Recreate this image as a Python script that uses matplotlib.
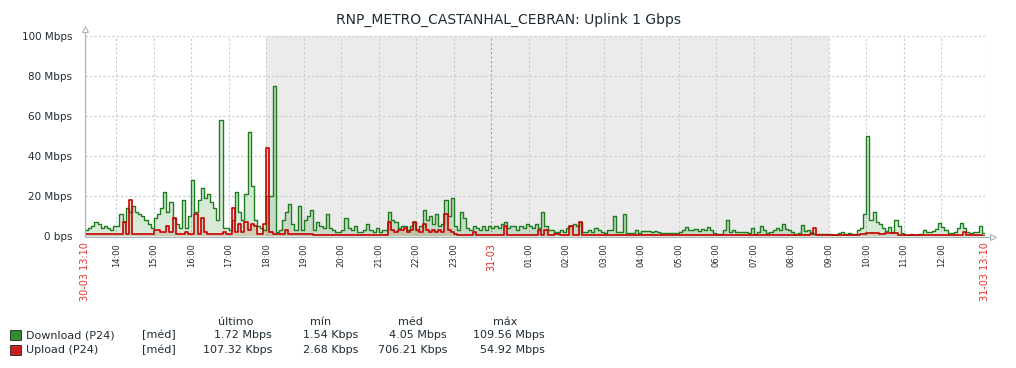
import numpy as np
import pandas as pd
import matplotlib
matplotlib.use("Agg")
import matplotlib.pyplot as plt
from matplotlib.lines import Line2D
from matplotlib.patches import Rectangle

title = "RNP_METRO_CASTANHAL_CEBRAN: Uplink 1 Gbps"

# Mbps, one value every 5 minutes, from 30-03 13:10 to 31-03 13:10
download = [
    3, 4, 5, 7, 6, 4, 5, 4, 3, 5,                   # 13:10-14:00
    5, 11, 7, 14, 12, 15, 12, 11, 10, 8, 6, 4,      # 14
    9, 11, 14, 22, 12, 17, 9, 6, 4, 18, 4, 10,      # 15
    28, 12, 18, 24, 19, 21, 17, 14, 8, 58, 4, 4,    # 16
    3, 8, 22, 12, 8, 21, 52, 25, 8, 5, 4, 3,        # 17
    20, 20, 75, 2, 3, 8, 12, 16, 6, 3, 15, 3,       # 18
    8, 10, 13, 3, 7, 5, 4, 11, 4, 3, 2, 2,          # 19
    3, 9, 4, 3, 5, 2, 2, 3, 6, 3, 2, 4,             # 20
    2, 3, 3, 12, 8, 7, 4, 5, 5, 3, 5, 7,            # 21
    3, 5, 13, 8, 10, 6, 11, 5, 6, 18, 10, 19,       # 22
    5, 3, 12, 9, 4, 3, 5, 4, 3, 5, 3, 5,            # 23
    4, 5, 4, 6, 7, 4, 5, 5, 3, 5, 4, 6,             # 00
    5, 4, 6, 4, 12, 5, 3, 3, 2, 2, 3, 2,            # 01
    4, 5, 6, 5, 7, 2, 2, 3, 2, 4, 3, 2,             # 02
    1.5, 3, 3, 10, 2, 2, 11, 1.5, 1.5, 1.5, 3, 1.5, # 03
    2.5, 2.5, 2.5, 2, 2.5, 2, 1.5, 1.5, 1.5, 1.3, 1.3, 1.3,  # 04
    2, 3, 4.5, 3, 3, 3.5, 2.5, 3.5, 3, 4.5, 3, 1.5, # 05
    1, 1, 3, 8, 2, 3, 2, 2, 2, 2, 1.5, 4,           # 06
    1, 2, 5, 3, 1.5, 2, 3, 4, 3, 6, 3.5, 3,         # 07
    2, 1, 1.5, 5.5, 2.5, 3, 2, 1, 1, 0.8, 0.8, 0.8, # 08
    1, 0.5, 0.5, 1.5, 2, 1, 1.5, 1, 1, 3, 4, 11,    # 09
    50, 8, 12, 7, 6, 4, 2.5, 4.5, 2, 8, 5, 1.5,     # 10
    0.5, 0.5, 1, 0.5, 0.5, 1, 3, 2, 2, 2.5, 3.5, 6.5,  # 11
    4.5, 3, 1.5, 1.5, 2, 4, 6.5, 4, 2, 1.5, 2, 2,   # 12
    5, 1.7,                                         # 13:00-13:10
]

upload = [
    1, 1, 1, 1, 1, 1, 1, 1, 1, 1,
    1, 1, 7, 1, 18, 1, 1, 1, 1, 1, 1, 1,
    3, 3, 2, 2, 5, 2, 9, 1, 1, 1, 2, 1,
    1, 11, 1, 9, 2, 1, 1, 1, 1, 1, 2, 1,
    1, 14, 2, 6, 2, 7, 3, 6, 5, 1, 1, 6,
    44, 2, 1, 1, 1, 1, 3, 1, 1, 1, 1, 1,
    1, 1, 1, 0.5, 0.5, 0.5, 0.5, 0.5, 0.5, 0.5, 0.5, 0.5,
    0.5, 0.5, 0.5, 0.5, 0.5, 0.5, 0.5, 0.5, 0.5, 0.5, 0.5, 0.5,
    0.5, 0.5, 0.5, 7, 3, 2, 3, 3, 4, 2, 3, 7,
    3, 2, 6, 3, 2, 3, 2, 3, 2, 11, 3, 2,
    1, 0.5, 0.5, 0.5, 0.5, 0.5, 2, 0.5, 0.5, 0.5, 0.5, 0.5,
    0.5, 0.5, 0.5, 0.5, 5, 0.5, 0.5, 0.5, 0.5, 0.5, 0.5, 0.5,
    0.5, 0.5, 0.5, 3, 0.5, 3, 0.5, 0.5, 1, 1, 0.5, 0.5,
    0.5, 5, 0.5, 0.5, 7, 0.5, 0.3, 0.3, 0.3, 0.3, 0.3, 0.3,
    0.3, 0.3, 0.3, 0.3, 0.3, 0.3, 0.3, 0.3, 0.3, 0.3, 0.3, 0.3,
    0.3, 0.3, 0.3, 0.3, 0.3, 0.3, 0.3, 0.3, 0.3, 0.3, 0.3, 0.3,
    0.3, 0.3, 0.3, 0.3, 0.3, 0.3, 0.3, 0.3, 0.3, 0.3, 0.3, 0.3,
    0.3, 0.3, 0.3, 0.3, 0.3, 0.3, 0.3, 0.3, 0.3, 0.3, 0.3, 0.3,
    0.3, 0.3, 0.3, 0.3, 0.3, 0.3, 0.3, 0.3, 0.3, 0.3, 0.3, 0.3,
    0.3, 0.3, 0.3, 0.3, 0.3, 0.3, 1, 4, 0.3, 0.3, 0.3, 0.3,
    0.3, 0.3, 0.3, 0.3, 0.3, 0.3, 0.3, 0.3, 0.3, 0.3, 0.8, 0.8,
    1.3, 1.3, 1.3, 1.3, 0.8, 1, 1.3, 1.3, 1.3, 1.3, 0.5, 0.3,
    0.3, 0.3, 0.3, 0.3, 0.3, 0.3, 0.3, 0.3, 0.3, 0.3, 0.3, 0.3,
    0.3, 0.3, 0.3, 0.3, 0.3, 0.3, 0.3, 2, 0.5, 0.5, 0.5, 0.5,
    0.5, 0.1,
]

y_ticks = [0, 20, 40, 60, 80, 100]
y_labels = ["0 bps", "20 Mbps", "40 Mbps", "60 Mbps", "80 Mbps", "100 Mbps"]

start = pd.Timestamp("2024-03-30 13:10")
end = pd.Timestamp("2024-03-31 13:10")
night_start = pd.Timestamp("2024-03-30 18:00")
night_end = pd.Timestamp("2024-03-31 09:00")

legend_names = ["Download (P24)", "Upload (P24)"]
legend_cols = ["último", "mín", "méd", "máx"]
legend_vals = [
    ["1.72 Mbps", "1.54 Kbps", "4.05 Mbps", "109.56 Mbps"],
    ["107.32 Kbps", "2.68 Kbps", "706.21 Kbps", "54.92 Mbps"],
]

green = "#1b7d1b"
red = "#c80000"
txt = "#1f2c33"
gridc = "#c3ccd1"
axc = "#a9b4ba"
labred = "#e8302c"

W, H = 1016, 368
fig = plt.figure(figsize=(W / 100, H / 100), dpi=100)


def fx(x):
    return x / W


def fy(y):
    return 1 - y / H


ax = fig.add_axes([fx(85), fy(236), fx(985) - fx(85), fy(36) - fy(236)])

times = pd.date_range(start, periods=len(download), freq="5min")
t_ext = list(times) + [end]
d_ext = download + [download[-1]]
u_ext = upload + [upload[-1]]

ax.axvspan(night_start, night_end, color="#ebebeb", lw=0, zorder=0)

hours = pd.date_range("2024-03-30 14:00", "2024-03-31 12:00", freq="1h")
for h in list(hours) + [end]:
    c = "#9aa3a8" if h.hour == 0 else gridc
    ax.axvline(h, color=c, lw=0.8, ls=(0, (2, 2)), zorder=1)
for v in y_ticks[1:]:
    ax.axhline(v, color=gridc, lw=0.8, ls=(0, (2, 2)), zorder=1)

ax.fill_between(t_ext, d_ext, step="post", color="#3a9a3a", alpha=0.2, lw=0, zorder=2)
ax.plot(t_ext, d_ext, drawstyle="steps-post", color=green, lw=1.0, zorder=3)
ax.fill_between(t_ext, u_ext, step="post", color="#a03000", alpha=0.15, lw=0, zorder=4)
ax.plot(t_ext, u_ext, drawstyle="steps-post", color=red, lw=1.2, zorder=5)

ax.set_xlim(start, end)
ax.set_ylim(0, 100)
for s in ["top", "right", "bottom"]:
    ax.spines[s].set_visible(False)
ax.spines["left"].set_color(axc)
ax.spines["left"].set_linewidth(0.8)
ax.set_yticks(y_ticks)
ax.set_yticklabels(y_labels, fontsize=7.5, color=txt)
ax.tick_params(axis="y", length=0, pad=9)

ax.set_xticks(list(hours))
ax.set_xticklabels([("31-03" if h.hour == 0 else h.strftime("%H:%M")) for h in hours],
                   rotation=90, fontsize=6, color=txt)
ax.tick_params(axis="x", length=0, pad=5)
for lab, h in zip(ax.get_xticklabels(), hours):
    if h.hour == 0:
        lab.set_color(labred)
        lab.set_fontsize(7)

for t, s in [(start, "30-03 13:10"), (end, "31-03 13:10")]:
    ax.text(t, -0.03, s, transform=ax.get_xaxis_transform(), rotation=90,
            ha="center", va="top", fontsize=7, color=labred)

# axis lines with arrows
fig.add_artist(Line2D([fx(85), fx(85)], [fy(236), fy(30)], color=axc, lw=0.8))
fig.add_artist(Line2D([fx(85), fx(991)], [fy(236.5), fy(236.5)], color=axc, lw=0.8))
fig.add_artist(Line2D([fx(85)], [fy(29)], marker="^", ms=5, mfc="white", mec=axc, mew=0.8))
fig.add_artist(Line2D([fx(993)], [fy(236.5)], marker=">", ms=5, mfc="white", mec=axc, mew=0.8))

fig.text(0.5, fy(19.5), title, ha="center", va="center", fontsize=10, color=txt)

# legend
col_x = [272, 358, 447, 545]
head_x = [236, 321, 410, 505]
for x, c in zip(head_x, legend_cols):
    fig.text(fx(x), fy(322), c, ha="center", va="center", fontsize=8, color=txt)
for i, (name, col) in enumerate(zip(legend_names, ["#2e8b2e", "#cc2020"])):
    yy = 335 + i * 15
    fig.add_artist(Rectangle((fx(10), fy(yy + 5)), fx(11), fy(0) - fy(10.5),
                             facecolor=col, edgecolor="#222222", lw=0.6))
    fig.text(fx(26), fy(yy), name, ha="left", va="center", fontsize=8, color=txt)
    fig.text(fx(142), fy(yy), "[méd]", ha="left", va="center", fontsize=8, color=txt)
    for x, v in zip(col_x, legend_vals[i]):
        fig.text(fx(x), fy(yy), v, ha="right", va="center", fontsize=8, color=txt)

fig.savefig("out.png", dpi=100, facecolor="white")
